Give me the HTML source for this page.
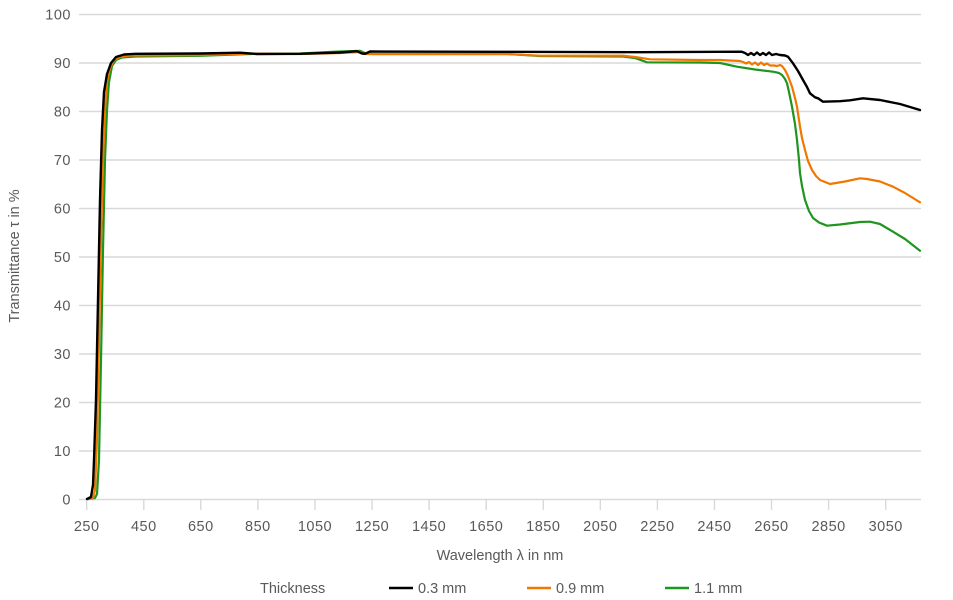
<!DOCTYPE html>
<html><head><meta charset="utf-8"><style>
html,body{margin:0;padding:0;background:#fff;}
svg{display:block;}
text{font-family:"Liberation Sans",sans-serif;fill:#595959;font-size:14.5px;}
</style></head><body>
<svg width="953" height="600" viewBox="0 0 953 600" xmlns="http://www.w3.org/2000/svg">
<g stroke="#d9d9d9" stroke-width="1.4">
<line x1="79" y1="14.5" x2="921" y2="14.5"/>
<line x1="79" y1="63" x2="921" y2="63"/>
<line x1="79" y1="111.5" x2="921" y2="111.5"/>
<line x1="79" y1="160" x2="921" y2="160"/>
<line x1="79" y1="208.5" x2="921" y2="208.5"/>
<line x1="79" y1="257" x2="921" y2="257"/>
<line x1="79" y1="305.5" x2="921" y2="305.5"/>
<line x1="79" y1="354" x2="921" y2="354"/>
<line x1="79" y1="402.5" x2="921" y2="402.5"/>
<line x1="79" y1="451" x2="921" y2="451"/>
<line x1="79" y1="499.5" x2="921" y2="499.5"/>
</g>
<g stroke="#d9d9d9" stroke-width="1.4">
<line x1="86.7" y1="499" x2="86.7" y2="510"/>
<line x1="143.8" y1="499" x2="143.8" y2="510"/>
<line x1="200.8" y1="499" x2="200.8" y2="510"/>
<line x1="257.9" y1="499" x2="257.9" y2="510"/>
<line x1="315" y1="499" x2="315" y2="510"/>
<line x1="372.1" y1="499" x2="372.1" y2="510"/>
<line x1="429.1" y1="499" x2="429.1" y2="510"/>
<line x1="486.2" y1="499" x2="486.2" y2="510"/>
<line x1="543.3" y1="499" x2="543.3" y2="510"/>
<line x1="600.3" y1="499" x2="600.3" y2="510"/>
<line x1="657.4" y1="499" x2="657.4" y2="510"/>
<line x1="714.5" y1="499" x2="714.5" y2="510"/>
<line x1="771.5" y1="499" x2="771.5" y2="510"/>
<line x1="828.6" y1="499" x2="828.6" y2="510"/>
<line x1="885.7" y1="499" x2="885.7" y2="510"/>
</g>
<g text-anchor="end" letter-spacing="0.5">
<text x="71" y="19.5">100</text>
<text x="71" y="68">90</text>
<text x="71" y="116.5">80</text>
<text x="71" y="165">70</text>
<text x="71" y="213.5">60</text>
<text x="71" y="262">50</text>
<text x="71" y="310.5">40</text>
<text x="71" y="359">30</text>
<text x="71" y="407.5">20</text>
<text x="71" y="456">10</text>
<text x="71" y="504.5">0</text>
</g>
<g text-anchor="middle" letter-spacing="0.5">
<text x="86.7" y="531">250</text>
<text x="143.8" y="531">450</text>
<text x="200.8" y="531">650</text>
<text x="257.9" y="531">850</text>
<text x="315" y="531">1050</text>
<text x="372.1" y="531">1250</text>
<text x="429.1" y="531">1450</text>
<text x="486.2" y="531">1650</text>
<text x="543.3" y="531">1850</text>
<text x="600.3" y="531">2050</text>
<text x="657.4" y="531">2250</text>
<text x="714.5" y="531">2450</text>
<text x="771.5" y="531">2650</text>
<text x="828.6" y="531">2850</text>
<text x="885.7" y="531">3050</text>
</g>
<text x="500" y="560" text-anchor="middle">Wavelength λ in nm</text>
<text transform="translate(19,256) rotate(-90)" text-anchor="middle">Transmittance τ in %</text>

<g fill="none" stroke-linejoin="round" stroke-linecap="round">
<path stroke="#1e961e" stroke-width="2.2" d="M88,499 L95,498 L97,494 L99,460 L101,360 L103,250 L105,160 L107,110 L109,82 L112,66 L116,60 L122,57.5 L135,56.5 L200,55.8 L250,54 L300,53.5 L340,51.5 L360,50.8 L365,53 L373,54 L507,54 L540,56 L623,56.5 L635,58 L647,62.3 L700,62.5 L720,63 L737,66.7 L755,69.5 L773,71.7 L779,73 L782,75 L785,79 L787,83.3 L789,92 L792,106.7 L795,124 L797,140 L799,160 L800,173 L802,186 L805,200 L809,211 L813,218 L819,222.5 L827,225.7 L840,224.5 L860,222 L870,221.7 L880,224 L893,231.7 L905,239 L920,250.7"/>
<path stroke="#f07800" stroke-width="2.2" d="M89,499 L93,498 L95,490 L97,440 L99,340 L101,240 L103,160 L105,110 L107,82 L110,68 L114,60 L120,57 L130,55.5 L200,55 L250,53.5 L300,54 L340,53 L360,52 L365,54 L373,54 L507,54 L540,55.7 L623,55.7 L635,57 L650,59.3 L700,60 L720,60 L740,61 L743,62 L746,63.5 L749,62 L752,64.5 L755,62.5 L758,65 L761,62.5 L764,65 L767,63.5 L770,65.5 L774,65.5 L777,66 L780,65 L782,66 L785,70 L788,76 L792,86.7 L795,98 L797,106.7 L800,126.7 L802,138 L805,150 L808,161 L812,170 L816,176 L820,180 L830,184 L845,181.5 L860,178.3 L867,179 L880,181.5 L893,186.7 L905,193 L920,202.3"/>
<path stroke="#000" stroke-width="2.4" d="M87,499 L91,497 L93,485 L94,460 L96,400 L98,300 L100,200 L102,130 L104,92 L107,74 L111,63 L116,57 L124,54.5 L135,53.8 L200,53.5 L240,52.7 L257,54 L300,53.8 L340,52.5 L357,51.2 L362,53.5 L365,53.8 L370,51.5 L500,51.8 L640,52.2 L741.7,51.7 L745,53 L748,55 L751,53 L754,55 L757,52.5 L760,55 L763,53 L766,55 L769,52.5 L772,55 L776,54 L780,55 L785,55.5 L788,56.7 L793,63.3 L798,71 L803,80 L807,87 L810,93.3 L815,97.3 L818,98.3 L823,101.7 L840,101.2 L850,100.3 L863,98.3 L880,100 L900,104 L920,110"/>
</g>

<text x="260" y="593">Thickness</text>
<line x1="389" y1="588" x2="413" y2="588" stroke="#000" stroke-width="2.6"/>
<text x="418" y="593">0.3 mm</text>
<line x1="527" y1="588" x2="551" y2="588" stroke="#f07800" stroke-width="2.6"/>
<text x="556" y="593">0.9 mm</text>
<line x1="665" y1="588" x2="689" y2="588" stroke="#1e961e" stroke-width="2.6"/>
<text x="694" y="593">1.1 mm</text>
</svg>
</body></html>
